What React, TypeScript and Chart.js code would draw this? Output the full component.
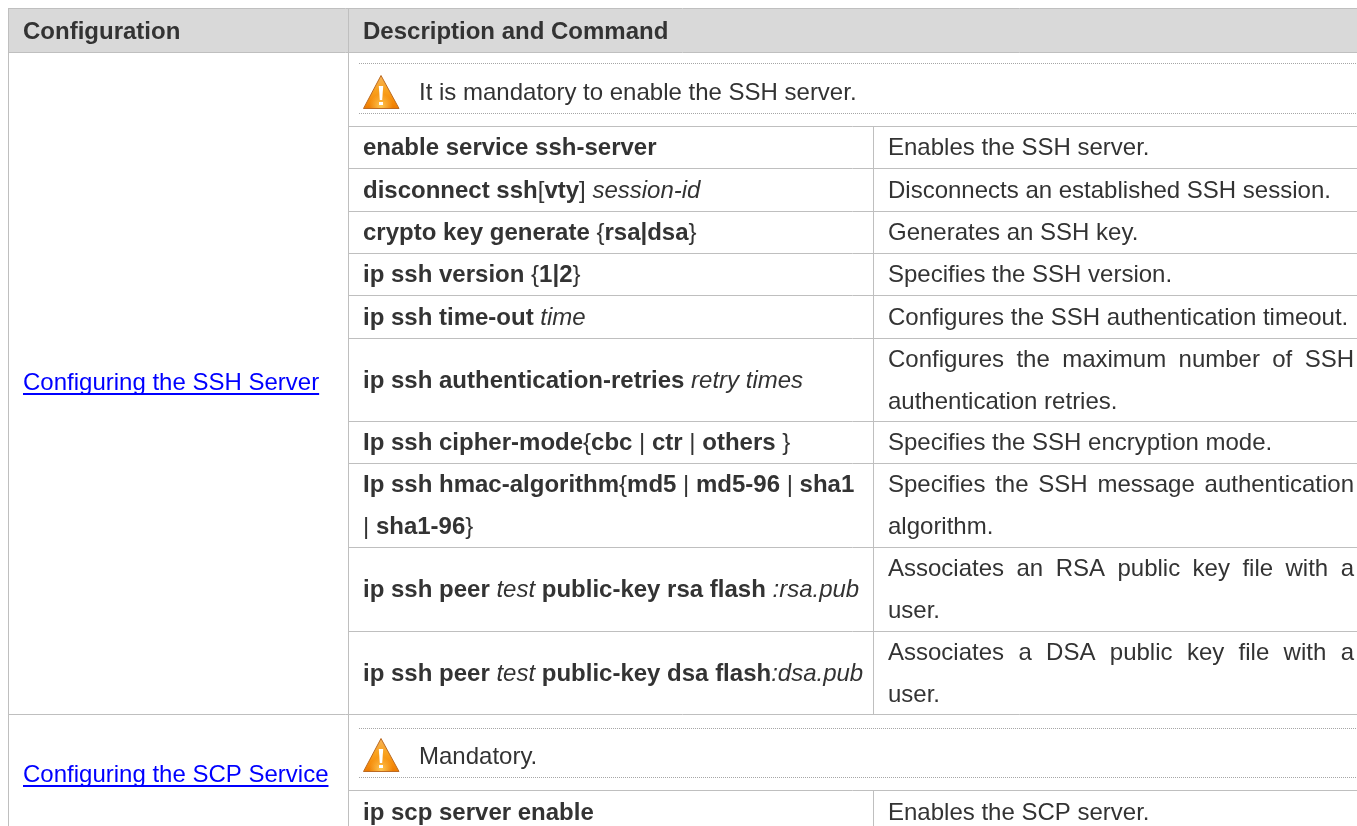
import React, { useEffect, useRef } from "react";
import { Chart, registerables } from "chart.js";

Chart.register(...registerables);

type Run = ["b" | "i" | "n", string];

const headers = ["Configuration", "Description and Command"];
const sectionLinks = ["Configuring the SSH Server", "Configuring the SCP Service"];
const notices = ["It is mandatory to enable the SSH server.", "Mandatory."];

const commands: Run[][][] = [
  [[["b", "enable service ssh-server"]]],
  [[["b", "disconnect ssh"], ["n", "["], ["b", "vty"], ["n", "] "], ["i", "session-id"]]],
  [[["b", "crypto key generate "], ["n", "{"], ["b", "rsa|dsa"], ["n", "}"]]],
  [[["b", "ip ssh version "], ["n", "{"], ["b", "1|2"], ["n", "}"]]],
  [[["b", "ip ssh time-out "], ["i", "time"]]],
  [[["b", "ip ssh authentication-retries "], ["i", "retry times"]]],
  [[["b", "Ip ssh cipher-mode"], ["n", "{"], ["b", "cbc"], ["n", " | "], ["b", "ctr"], ["n", " | "], ["b", "others"], ["n", " }"]]],
  [
    [["b", "Ip ssh hmac-algorithm"], ["n", "{"], ["b", "md5"], ["n", " | "], ["b", "md5-96"], ["n", " | "], ["b", "sha1"]],
    [["n", "| "], ["b", "sha1-96"], ["n", "}"]],
  ],
  [[["b", "ip ssh peer "], ["i", "test "], ["b", "public-key rsa flash "], ["i", ":rsa.pub"]]],
  [[["b", "ip ssh peer "], ["i", "test "], ["b", "public-key dsa flash"], ["i", ":dsa.pub"]]],
  [[["b", "ip scp server enable"]]],
];

const descriptions: string[][] = [
  ["Enables the SSH server."],
  ["Disconnects an established SSH session."],
  ["Generates an SSH key."],
  ["Specifies the SSH version."],
  ["Configures the SSH authentication timeout."],
  ["Configures the maximum number of SSH", "authentication retries."],
  ["Specifies the SSH encryption mode."],
  ["Specifies the SSH message authentication", "algorithm."],
  ["Associates an RSA public key file with a", "user."],
  ["Associates a DSA public key file with a", "user."],
  ["Enables the SCP server."],
];

const FONT = '"Liberation Sans", Arial, sans-serif';
const TEXT = "#333333";
const RULE = "#BFBFBF";
const SIZE = 24;

const tablePlugin = {
  id: "configTable",
  beforeDraw(chart: any) {
    const { ctx } = chart;
    const X = (v: number) => chart.scales.x.getPixelForValue(v);
    const Y = (v: number) => chart.scales.y.getPixelForValue(v);
    const setFont = (s: string) => {
      ctx.font = `${s === "b" ? "bold " : s === "i" ? "italic " : ""}${SIZE}px ${FONT}`;
    };
    const hline = (x0: number, x1: number, y: number) => {
      ctx.beginPath();
      ctx.moveTo(X(x0), Y(y) + 0.5);
      ctx.lineTo(X(x1), Y(y) + 0.5);
      ctx.stroke();
    };
    const vline = (x: number, y0: number, y1: number) => {
      ctx.beginPath();
      ctx.moveTo(X(x) + 0.5, Y(y0));
      ctx.lineTo(X(x) + 0.5, Y(y1));
      ctx.stroke();
    };

    const left = 8;
    const right = 1357;
    const colA = 348;
    const colB = 873;
    const rowTops = [126, 168, 211, 253, 295, 338, 421, 463, 547, 631, 790];
    const rowBottoms = [168, 211, 253, 295, 338, 421, 463, 547, 631, 714, 826];

    ctx.save();
    ctx.fillStyle = "#FFFFFF";
    ctx.fillRect(0, 0, chart.width, chart.height);
    ctx.fillStyle = "#D9D9D9";
    ctx.fillRect(X(left), Y(9), X(right) - X(left), Y(52) - Y(9));

    ctx.strokeStyle = RULE;
    ctx.lineWidth = 1;
    hline(left, right, 8);
    hline(left, right, 52);
    hline(left, right, 714);
    vline(left, 8, 826);
    vline(colA, 8, 826);
    rowTops.forEach((y) => hline(colA, right, y));
    vline(colB, 126, 714);
    vline(colB, 790, 826);

    ctx.strokeStyle = "#A6A6A6";
    ctx.setLineDash([1, 1]);
    [63, 113, 728, 777].forEach((y) => hline(359, right, y));
    ctx.setLineDash([]);

    ctx.textBaseline = "alphabetic";
    ctx.textAlign = "left";

    ctx.fillStyle = TEXT;
    ctx.font = `bold ${SIZE}px ${FONT}`;
    ctx.fillText(headers[0], X(23), Y(39));
    ctx.fillText(headers[1], X(363), Y(39));

    ctx.font = `${SIZE}px ${FONT}`;
    ctx.fillText(notices[0], X(419), Y(100));
    ctx.fillText(notices[1], X(419), Y(764));

    ctx.fillStyle = "#0000FF";
    ctx.strokeStyle = "#0000FF";
    const linkY = [390, 782];
    sectionLinks.forEach((t, i) => {
      ctx.fillText(t, X(23), Y(linkY[i]));
      const w = ctx.measureText(t).width;
      ctx.lineWidth = 2;
      ctx.beginPath();
      ctx.moveTo(X(23), Y(linkY[i]) + 4);
      ctx.lineTo(X(23) + w, Y(linkY[i]) + 4);
      ctx.stroke();
    });

    [[363, 75], [363, 738]].forEach(([ix, iy]) => {
      const x = X(ix);
      const y = Y(iy);
      const g = ctx.createLinearGradient(0, y, 0, y + 34);
      g.addColorStop(0, "#F6B45A");
      g.addColorStop(0.45, "#F9A21E");
      g.addColorStop(0.8, "#F58A0A");
      g.addColorStop(1, "#EC7A00");
      ctx.fillStyle = g;
      ctx.strokeStyle = "#BC6A22";
      ctx.lineWidth = 1;
      ctx.lineJoin = "round";
      ctx.beginPath();
      ctx.moveTo(x + 18, y + 0.5);
      ctx.lineTo(x + 36, y + 33.5);
      ctx.lineTo(x + 0.5, y + 33.5);
      ctx.closePath();
      ctx.fill();
      ctx.stroke();
      const h = ctx.createRadialGradient(x + 18, y + 31, 1, x + 18, y + 31, 12);
      h.addColorStop(0, "rgba(255,205,90,0.85)");
      h.addColorStop(1, "rgba(255,205,90,0)");
      ctx.fillStyle = h;
      ctx.beginPath();
      ctx.moveTo(x + 18, y + 2);
      ctx.lineTo(x + 35, y + 33);
      ctx.lineTo(x + 1.5, y + 33);
      ctx.closePath();
      ctx.fill();
      ctx.fillStyle = "#FFFFFF";
      ctx.beginPath();
      ctx.moveTo(x + 15.8, y + 11);
      ctx.lineTo(x + 20.2, y + 11);
      ctx.lineTo(x + 19.2, y + 25);
      ctx.lineTo(x + 16.8, y + 25);
      ctx.closePath();
      ctx.fill();
      ctx.fillRect(x + 16, y + 27, 4, 3);
    });

    ctx.fillStyle = TEXT;
    commands.forEach((lines, r) => {
      const mid = r === 10 ? 812 : (rowTops[r] + rowBottoms[r]) / 2;
      lines.forEach((runs, li) => {
        const base = mid + 8 + (li - (lines.length - 1) / 2) * 42;
        let cx = X(363);
        runs.forEach(([s, t]) => {
          setFont(s);
          ctx.fillText(t, cx, Y(base));
          cx += ctx.measureText(t).width;
        });
      });
    });

    descriptions.forEach((lines, r) => {
      const mid = r === 10 ? 812 : (rowTops[r] + rowBottoms[r]) / 2;
      ctx.font = `${SIZE}px ${FONT}`;
      lines.forEach((t, li) => {
        const base = mid + 8 + (li - (lines.length - 1) / 2) * 42;
        if (lines.length > 1 && li === 0) {
          const gaps = t.split(" ").length - 1;
          const natural = ctx.measureText(t).width;
          const extra = (1354 - 888 - natural) / gaps;
          (ctx as any).wordSpacing = `${extra}px`;
        } else {
          (ctx as any).wordSpacing = "0px";
        }
        ctx.fillText(t, X(888), Y(base));
        (ctx as any).wordSpacing = "0px";
      });
    });
    ctx.restore();
  },
};

export default function App() {
  const ref = useRef<HTMLCanvasElement>(null);
  useEffect(() => {
    const chart = new Chart(ref.current as HTMLCanvasElement, {
      type: "scatter",
      data: { datasets: [{ data: [] }] },
      options: {
        animation: false,
        responsive: false,
        layout: { padding: 0 },
        plugins: { legend: { display: false }, tooltip: { enabled: false }, title: { display: false } },
        scales: {
          x: { type: "linear", min: 0, max: 1357, display: false },
          y: { type: "linear", min: 0, max: 826, reverse: true, display: false },
        },
      },
      plugins: [tablePlugin],
    } as any);
    return () => chart.destroy();
  }, []);
  return (
    <canvas
      ref={ref}
      width={1357}
      height={826}
      style={{ position: "absolute", left: 0, top: 0, display: "block" }}
    />
  );
}
